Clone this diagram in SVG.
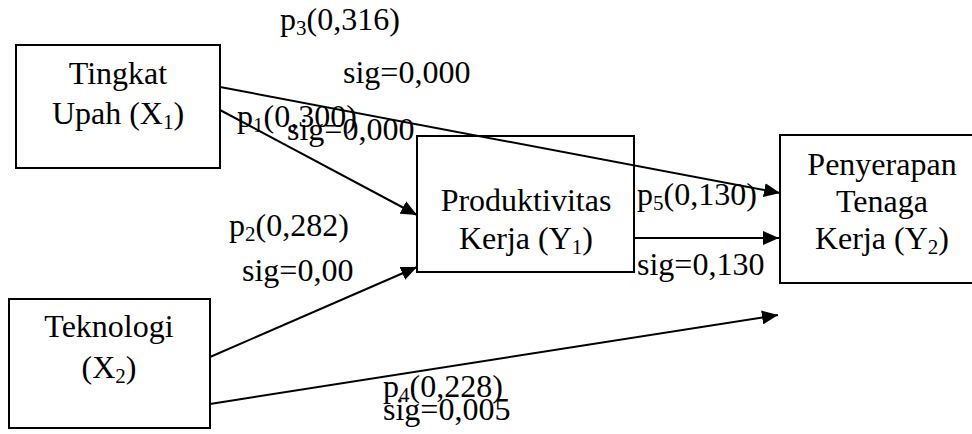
<svg xmlns="http://www.w3.org/2000/svg" width="972" height="434" viewBox="0 0 972 434">
  <defs>
    <marker id="arrow" markerUnits="userSpaceOnUse" markerWidth="18" markerHeight="14" refX="16" refY="7" orient="auto">
      <path d="M0,0 L16,7 L0,14 Z" fill="#000"/>
    </marker>
    <style>
      .box { fill: #fff; stroke: #000; stroke-width: 2; }
      .lbl { font-family: 'Liberation Serif', 'Times New Roman', serif; font-size: 32px; fill: #000; }
      .mid { text-anchor: middle; }
      .sub { font-size: 21px; }
      .edge { fill: none; stroke: #000; stroke-width: 2; marker-end: url(#arrow); }
    </style>
  </defs>
  <rect width="972" height="434" fill="#fff"/>

  <!-- nodes -->
  <g id="x1">
    <rect class="box" x="16" y="45" width="204" height="123"/>
    <text class="lbl mid" x="118" y="84">Tingkat</text>
    <text class="lbl mid" x="118" y="124">Upah (X<tspan class="sub" dy="5">1</tspan><tspan dy="-5">)</tspan></text>
  </g>
  <g id="y1">
    <rect class="box" x="417" y="136" width="217" height="136"/>
    <text class="lbl mid" x="526" y="211">Produktivitas</text>
    <text class="lbl mid" x="526" y="249">Kerja (Y<tspan class="sub" dy="5">1</tspan><tspan dy="-5">)</tspan></text>
  </g>
  <g id="y2">
    <rect class="box" x="780" y="135" width="200" height="148"/>
    <text class="lbl mid" x="882" y="175">Penyerapan</text>
    <text class="lbl mid" x="882" y="212">Tenaga</text>
    <text class="lbl mid" x="882" y="249">Kerja (Y<tspan class="sub" dy="5">2</tspan><tspan dy="-5">)</tspan></text>
  </g>
  <g id="x2">
    <rect class="box" x="9" y="299" width="201" height="129"/>
    <text class="lbl mid" x="109" y="337">Teknologi</text>
    <text class="lbl mid" x="109" y="378">(X<tspan class="sub" dy="5">2</tspan><tspan dy="-5">)</tspan></text>
  </g>

  <!-- connectors, drawn over the boxes -->
  <g id="connectors">
    <line class="edge" x1="220" y1="87" x2="780" y2="193"/>
    <line class="edge" x1="220" y1="110" x2="417" y2="215"/>
    <line class="edge" x1="210" y1="357" x2="417" y2="267"/>
    <line class="edge" x1="210" y1="404" x2="778" y2="315"/>
    <line class="edge" x1="634" y1="238" x2="779" y2="238"/>
  </g>

  <!-- path coefficients -->
  <g id="coefficients">
    <text class="lbl" x="280" y="30">p<tspan class="sub" dy="5">3</tspan><tspan dy="-5">(0,316)</tspan></text>
    <text class="lbl" x="343" y="83">sig=0,000</text>
    <text class="lbl" x="237" y="127">p<tspan class="sub" dy="5">1</tspan><tspan dy="-5">(0,300)</tspan></text>
    <text class="lbl" x="287" y="140">sig=0,000</text>
    <text class="lbl" x="229" y="236">p<tspan class="sub" dy="5">2</tspan><tspan dy="-5">(0,282)</tspan></text>
    <text class="lbl" x="242" y="281">sig=0,00</text>
    <text class="lbl" x="637" y="205">p<tspan class="sub" dy="5">5</tspan><tspan dy="-5">(0,130)</tspan></text>
    <text class="lbl" x="637" y="275">sig=0,130</text>
    <text class="lbl" x="383" y="397">p<tspan class="sub" dy="5">4</tspan><tspan dy="-5">(0,228)</tspan></text>
    <text class="lbl" x="383" y="420">sig=0,005</text>
  </g>
</svg>
